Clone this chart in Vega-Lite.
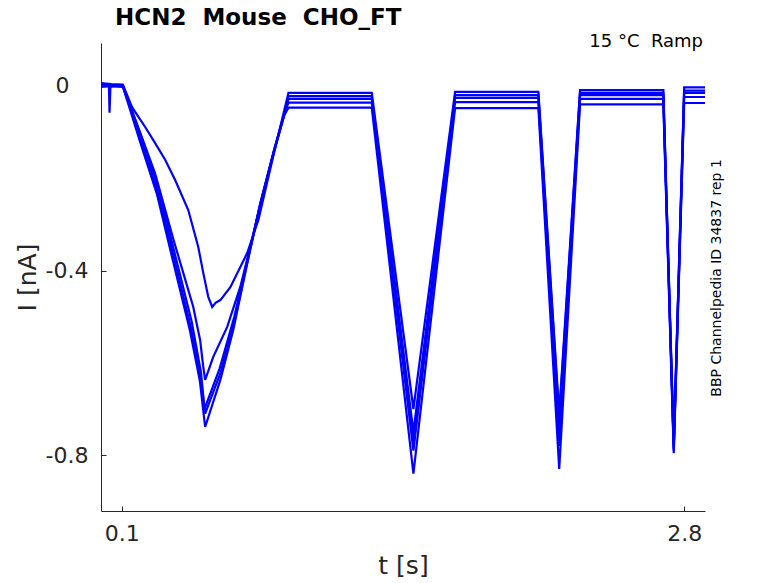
{
  "$schema": "https://vega.github.io/schema/vega-lite/v6.json",
  "width": 604,
  "height": 468,
  "autosize": "none",
  "padding": {"left": 101, "top": 43, "right": 73, "bottom": 72},
  "background": "white",
  "config": {"view": {"stroke": null}, "font": "DejaVu Sans"},
  "title": {"text": "HCN2\u00a0\u00a0Mouse\u00a0\u00a0CHO_FT", "anchor": "start", "frame": "group", "dx": 14, "offset": 3, "fontSize": 23, "fontWeight": "bold", "font": "DejaVu Sans", "color": "#000000"},
  "layer": [
    {
      "data": {"values": [
        {"trace": "A", "t": 0, "I": 0.006}, {"trace": "A", "t": 0.05, "I": 0.004}, {"trace": "A", "t": 0.105, "I": 0.003},
        {"trace": "A", "t": 0.149, "I": -0.046}, {"trace": "A", "t": 0.212, "I": -0.089}, {"trace": "A", "t": 0.26, "I": -0.124},
        {"trace": "A", "t": 0.308, "I": -0.16}, {"trace": "A", "t": 0.356, "I": -0.204}, {"trace": "A", "t": 0.419, "I": -0.269},
        {"trace": "A", "t": 0.467, "I": -0.349}, {"trace": "A", "t": 0.491, "I": -0.405}, {"trace": "A", "t": 0.515, "I": -0.457},
        {"trace": "A", "t": 0.534, "I": -0.479}, {"trace": "A", "t": 0.55, "I": -0.47}, {"trace": "A", "t": 0.573, "I": -0.464},
        {"trace": "A", "t": 0.621, "I": -0.436}, {"trace": "A", "t": 0.702, "I": -0.362}, {"trace": "A", "t": 0.756, "I": -0.29},
        {"trace": "A", "t": 0.828, "I": -0.15}, {"trace": "A", "t": 0.9, "I": -0.015}, {"trace": "A", "t": 1.3, "I": -0.015},
        {"trace": "A", "t": 1.5, "I": -0.70}, {"trace": "A", "t": 1.7, "I": -0.013}, {"trace": "A", "t": 2.1, "I": -0.013},
        {"trace": "A", "t": 2.2, "I": -0.71}, {"trace": "A", "t": 2.3, "I": -0.009}, {"trace": "A", "t": 2.7, "I": -0.009},
        {"trace": "A", "t": 2.75, "I": -0.775}, {"trace": "A", "t": 2.8, "I": -0.003}, {"trace": "A", "t": 2.9, "I": -0.003},

        {"trace": "B", "t": 0, "I": 0.004}, {"trace": "B", "t": 0.05, "I": 0.002}, {"trace": "B", "t": 0.105, "I": 0.001},
        {"trace": "B", "t": 0.178, "I": -0.089}, {"trace": "B", "t": 0.26, "I": -0.19}, {"trace": "B", "t": 0.346, "I": -0.33},
        {"trace": "B", "t": 0.395, "I": -0.405}, {"trace": "B", "t": 0.443, "I": -0.479}, {"trace": "B", "t": 0.476, "I": -0.551},
        {"trace": "B", "t": 0.49, "I": -0.605}, {"trace": "B", "t": 0.5, "I": -0.637}, {"trace": "B", "t": 0.539, "I": -0.587},
        {"trace": "B", "t": 0.606, "I": -0.522}, {"trace": "B", "t": 0.669, "I": -0.435}, {"trace": "B", "t": 0.717, "I": -0.349},
        {"trace": "B", "t": 0.756, "I": -0.275}, {"trace": "B", "t": 0.828, "I": -0.148}, {"trace": "B", "t": 0.876, "I": -0.07},
        {"trace": "B", "t": 0.9, "I": -0.022}, {"trace": "B", "t": 1.3, "I": -0.022}, {"trace": "B", "t": 1.5, "I": -0.75},
        {"trace": "B", "t": 1.7, "I": -0.02}, {"trace": "B", "t": 2.1, "I": -0.02}, {"trace": "B", "t": 2.2, "I": -0.72},
        {"trace": "B", "t": 2.3, "I": -0.015}, {"trace": "B", "t": 2.7, "I": -0.015}, {"trace": "B", "t": 2.75, "I": -0.78},
        {"trace": "B", "t": 2.8, "I": -0.01}, {"trace": "B", "t": 2.9, "I": -0.01},

        {"trace": "C1", "t": 0, "I": 0.002}, {"trace": "C1", "t": 0.038, "I": 0.001}, {"trace": "C1", "t": 0.041, "I": -0.058},
        {"trace": "C1", "t": 0.045, "I": -0.004}, {"trace": "C1", "t": 0.05, "I": 0.0}, {"trace": "C1", "t": 0.105, "I": -0.001},
        {"trace": "C1", "t": 0.187, "I": -0.12}, {"trace": "C1", "t": 0.269, "I": -0.235}, {"trace": "C1", "t": 0.346, "I": -0.38},
        {"trace": "C1", "t": 0.427, "I": -0.53}, {"trace": "C1", "t": 0.475, "I": -0.64}, {"trace": "C1", "t": 0.5, "I": -0.739},
        {"trace": "C1", "t": 0.573, "I": -0.637}, {"trace": "C1", "t": 0.635, "I": -0.529}, {"trace": "C1", "t": 0.702, "I": -0.384},
        {"trace": "C1", "t": 0.765, "I": -0.254}, {"trace": "C1", "t": 0.828, "I": -0.145}, {"trace": "C1", "t": 0.876, "I": -0.067},
        {"trace": "C1", "t": 0.9, "I": -0.047}, {"trace": "C1", "t": 1.3, "I": -0.047}, {"trace": "C1", "t": 1.5, "I": -0.84},
        {"trace": "C1", "t": 1.7, "I": -0.048}, {"trace": "C1", "t": 2.1, "I": -0.048}, {"trace": "C1", "t": 2.2, "I": -0.83},
        {"trace": "C1", "t": 2.3, "I": -0.04}, {"trace": "C1", "t": 2.7, "I": -0.04}, {"trace": "C1", "t": 2.75, "I": -0.796},
        {"trace": "C1", "t": 2.8, "I": -0.037}, {"trace": "C1", "t": 2.9, "I": -0.037},

        {"trace": "C2", "t": 0, "I": 0.0}, {"trace": "C2", "t": 0.05, "I": -0.001}, {"trace": "C2", "t": 0.105, "I": 0.0},
        {"trace": "C2", "t": 0.19, "I": -0.115}, {"trace": "C2", "t": 0.272, "I": -0.228}, {"trace": "C2", "t": 0.35, "I": -0.372},
        {"trace": "C2", "t": 0.43, "I": -0.52}, {"trace": "C2", "t": 0.478, "I": -0.63}, {"trace": "C2", "t": 0.5, "I": -0.71},
        {"trace": "C2", "t": 0.575, "I": -0.62}, {"trace": "C2", "t": 0.64, "I": -0.51}, {"trace": "C2", "t": 0.705, "I": -0.378},
        {"trace": "C2", "t": 0.765, "I": -0.256}, {"trace": "C2", "t": 0.83, "I": -0.14}, {"trace": "C2", "t": 0.88, "I": -0.06},
        {"trace": "C2", "t": 0.9, "I": -0.036}, {"trace": "C2", "t": 1.3, "I": -0.036}, {"trace": "C2", "t": 1.5, "I": -0.79},
        {"trace": "C2", "t": 1.7, "I": -0.035}, {"trace": "C2", "t": 2.1, "I": -0.035}, {"trace": "C2", "t": 2.2, "I": -0.78},
        {"trace": "C2", "t": 2.3, "I": -0.028}, {"trace": "C2", "t": 2.7, "I": -0.028}, {"trace": "C2", "t": 2.75, "I": -0.79},
        {"trace": "C2", "t": 2.8, "I": -0.024}, {"trace": "C2", "t": 2.9, "I": -0.024},

        {"trace": "C3", "t": 0, "I": -0.002}, {"trace": "C3", "t": 0.05, "I": 0.0}, {"trace": "C3", "t": 0.105, "I": -0.002},
        {"trace": "C3", "t": 0.195, "I": -0.112}, {"trace": "C3", "t": 0.278, "I": -0.225}, {"trace": "C3", "t": 0.355, "I": -0.365},
        {"trace": "C3", "t": 0.435, "I": -0.51}, {"trace": "C3", "t": 0.48, "I": -0.62}, {"trace": "C3", "t": 0.497, "I": -0.70},
        {"trace": "C3", "t": 0.57, "I": -0.612}, {"trace": "C3", "t": 0.64, "I": -0.5}, {"trace": "C3", "t": 0.705, "I": -0.372},
        {"trace": "C3", "t": 0.765, "I": -0.255}, {"trace": "C3", "t": 0.83, "I": -0.142}, {"trace": "C3", "t": 0.88, "I": -0.062},
        {"trace": "C3", "t": 0.9, "I": -0.028}, {"trace": "C3", "t": 1.3, "I": -0.028}, {"trace": "C3", "t": 1.5, "I": -0.77},
        {"trace": "C3", "t": 1.7, "I": -0.026}, {"trace": "C3", "t": 2.1, "I": -0.026}, {"trace": "C3", "t": 2.2, "I": -0.75},
        {"trace": "C3", "t": 2.3, "I": -0.02}, {"trace": "C3", "t": 2.7, "I": -0.02}, {"trace": "C3", "t": 2.75, "I": -0.785},
        {"trace": "C3", "t": 2.8, "I": -0.015}, {"trace": "C3", "t": 2.9, "I": -0.015}
      ]},
      "mark": {"type": "line", "color": "#0000ff", "strokeWidth": 2.2, "clip": true},
      "encoding": {
        "x": {
          "field": "t", "type": "quantitative",
          "scale": {"domain": [0, 2.9], "nice": false, "zero": false},
          "axis": {
            "title": "t [s]", "values": [0.1, 2.8], "format": ".1f", "grid": false,
            "labelFontSize": 22, "labelColor": "#262626", "labelFont": "DejaVu Sans", "labelFlush": false, "labelOverlap": false,
            "labelPadding": 17, "tickSize": -5, "tickColor": "#262626", "domainColor": "#262626", "domainWidth": 1,
            "titleFontSize": 25, "titleFontWeight": "normal", "titleColor": "#262626", "titleFont": "DejaVu Sans", "titlePadding": 9
          }
        },
        "y": {
          "field": "I", "type": "quantitative",
          "scale": {"domain": [-0.921, 0.093], "nice": false, "zero": false},
          "axis": {
            "title": "I [nA]", "values": [0, -0.4, -0.8], "grid": false,
            "labelExpr": "datum.value == 0 ? '0' : '-' + format(abs(datum.value), '.1f')",
            "labelFontSize": 22, "labelColor": "#262626", "labelFont": "DejaVu Sans",
            "labelPadding": {"condition": {"test": "datum.value == 0", "value": 37}, "value": 18},
            "tickSize": -5, "tickColor": "#262626", "domainColor": "#262626", "domainWidth": 1,
            "titleFontSize": 25, "titleFontWeight": "normal", "titleColor": "#262626", "titleFont": "DejaVu Sans", "titlePadding": 5
          }
        },
        "detail": {"field": "trace", "type": "nominal"}
      }
    },
    {
      "data": {"values": [{}]},
      "mark": {"type": "text", "align": "right", "baseline": "alphabetic", "fontSize": 18, "font": "DejaVu Sans", "color": "#000000", "dx": -2},
      "encoding": {
        "x": {"datum": 2.9, "type": "quantitative"},
        "y": {"datum": 0.0845, "type": "quantitative"},
        "text": {"value": "15 °C\u00a0\u00a0Ramp"}
      }
    },
    {
      "data": {"values": [{}]},
      "mark": {"type": "text", "align": "center", "baseline": "alphabetic", "angle": 270, "fontSize": 14, "font": "DejaVu Sans", "color": "#000000"},
      "encoding": {
        "x": {"datum": 2.977, "type": "quantitative"},
        "y": {"datum": -0.416, "type": "quantitative"},
        "text": {"value": "BBP Channelpedia ID 34837 rep 1"}
      }
    }
  ]
}
